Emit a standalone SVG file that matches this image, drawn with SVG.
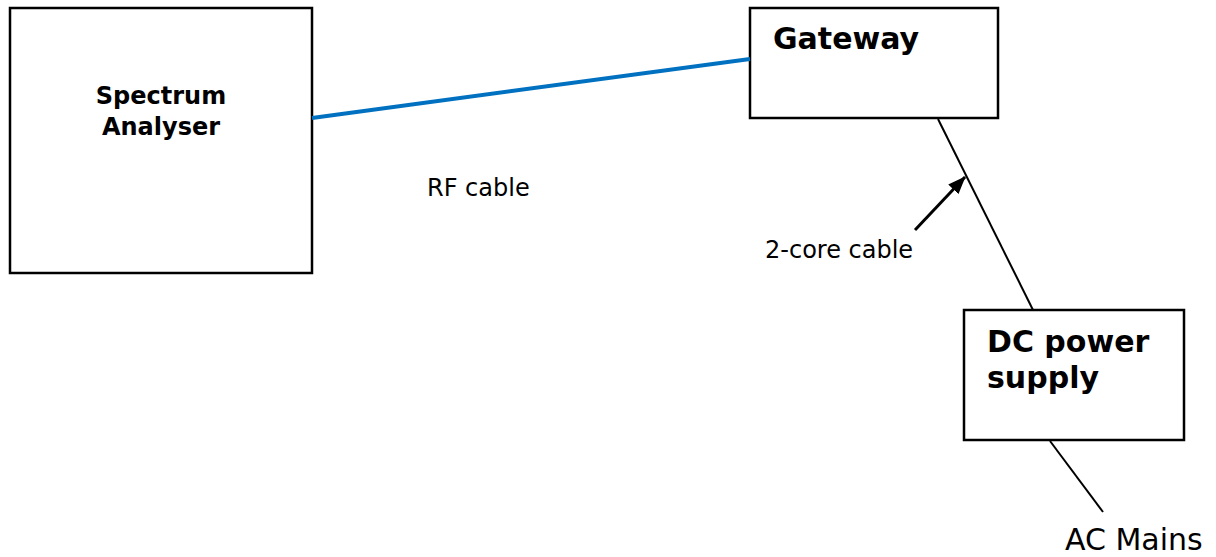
<svg xmlns="http://www.w3.org/2000/svg" width="1216" height="557" viewBox="0 0 1216 557">
<style>
.box{fill:#fff;stroke:#000;stroke-width:2.5}
.b{font-family:"DejaVu Sans",Verdana,sans-serif;font-weight:bold;fill:#000}
.r{font-family:"DejaVu Sans",Verdana,sans-serif;fill:#000}
.ln{stroke:#000;stroke-width:2;fill:none}
</style>
<defs>
<marker id="ah" markerWidth="18" markerHeight="14" refX="17" refY="7" orient="auto" markerUnits="userSpaceOnUse" viewBox="0 0 18 14">
<path d="M0,0 L18,7 L0,14 Z" fill="#000"/>
</marker>
</defs>
<g id="spectrum-analyser">
<rect class="box" x="10" y="8" width="302" height="265"/>
<text class="b" x="161" y="104" font-size="24" text-anchor="middle">Spectrum</text>
<text class="b" x="161" y="135" font-size="24" text-anchor="middle">Analyser</text>
</g>
<g id="gateway">
<rect class="box" x="750" y="8" width="248" height="110"/>
<text class="b" x="773" y="49" font-size="30">Gateway</text>
</g>
<g id="dc-power-supply">
<rect class="box" x="964" y="310" width="220" height="130"/>
<text class="b" x="987" y="352" font-size="30">DC power</text>
<text class="b" x="987" y="388" font-size="30">supply</text>
</g>
<g id="connectors">
<line x1="312" y1="118" x2="750" y2="59" stroke="#0070C0" stroke-width="4"/>
<line class="ln" x1="938" y1="119" x2="1033" y2="310"/>
<line class="ln" x1="1050" y1="441" x2="1103" y2="512"/>
<line x1="915" y1="230" x2="965" y2="177" stroke="#000" stroke-width="3" marker-end="url(#ah)"/>
</g>
<g id="labels">
<text class="r" x="427" y="196" font-size="24">RF cable</text>
<text class="r" x="765" y="258" font-size="24">2-core cable</text>
<text class="r" x="1065" y="550" font-size="30">AC Mains</text>
</g>
</svg>
